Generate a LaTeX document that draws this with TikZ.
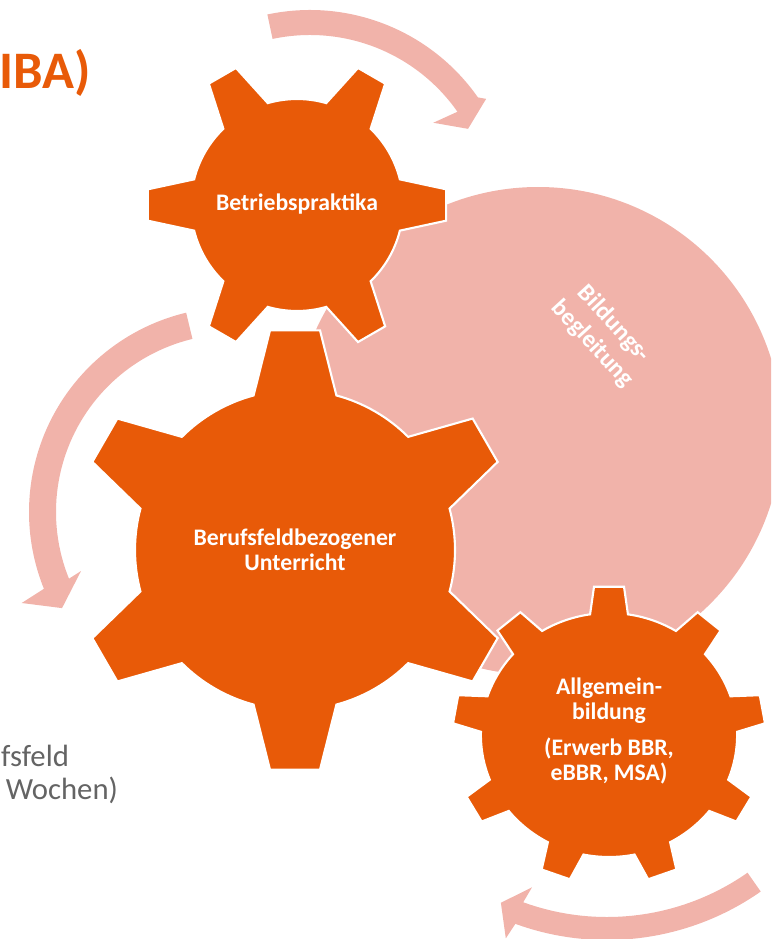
\documentclass[tikz,border=0pt]{standalone}
\usepackage{fontspec}
\setmainfont{Carlito}
\usepackage{tikz}
\usetikzlibrary{positioning,calc}
\usepackage{xcolor}

\definecolor{gearorange}{RGB}{232,90,8}
\definecolor{ringpink}{RGB}{241,179,170}
\definecolor{slidegray}{RGB}{100,100,100}

\tikzset{
  gear/.style={fill=gearorange, draw=white, line width=1.2pt},
  ring/.style={fill=ringpink},
  turnarrow/.style={fill=ringpink},
  gearlabel/.style={text=white, inner sep=0pt, outer sep=0pt, align=center,
    font=\bfseries\fontsize{13.5}{14.2}\selectfont},
  slidetext/.style={anchor=base east, inner sep=0pt, outer sep=0pt}
}

\begin{document}
\begin{tikzpicture}[x=0.02cm, y=-0.02cm]
            \useasboundingbox (0,0) rectangle (771,939);
            \clip (0,0) rectangle (771,939);
            % Big disc behind the gears
            \fill[ring] (538,431) circle[radius=244];
            % Arrow 1: over the top gear
            \begin{scope}[shift={(310,215)}]
            \fill[turnarrow] (-102:205) arc[start angle=-102, end angle=-35, radius=205]
                -- (-33.4:211) -- (-28.6:180) -- (-36.8:154)
                -- (-35:180) arc[start angle=-35, end angle=-102, radius=180] -- cycle;
            \end{scope}
            % Arrow 2: left of the big gear
            \begin{scope}[shift={(234,512)}]
            \fill[turnarrow] (-103.5:205) arc[start angle=-103.5, end angle=-202, radius=205]
                -- (-203.2:231) -- (-209.2:197) -- (-201.1:164)
                -- (-202:178) arc[start angle=-202, end angle=-103.5, radius=178] -- cycle;
            \end{scope}
            % Arrow 3: under the small gear
            \begin{scope}[shift={(607,672)}]
            \fill[turnarrow] (55:268) arc[start angle=55, end angle=110, radius=268]
                -- (110.8:285) -- (114.7:254) -- (109.2:228)
                -- (110:245) arc[start angle=110, end angle=55, radius=245] -- cycle;
            \end{scope}
            % Gear 1: 6 teeth
            \begin{scope}[shift={(297,205)}]
            \filldraw[gear] (-14:106)
                -- (-6:150) -- (6:150) -- (14:106) arc[start angle=14, end angle=46, radius=106]
                -- (54:150) -- (66:150) -- (74:106) arc[start angle=74, end angle=106, radius=106]
                -- (114:150) -- (126:150) -- (134:106) arc[start angle=134, end angle=166, radius=106]
                -- (174:150) -- (186:150) -- (194:106) arc[start angle=194, end angle=226, radius=106]
                -- (234:150) -- (246:150) -- (254:106) arc[start angle=254, end angle=286, radius=106]
                -- (294:150) -- (306:150) -- (314:106) arc[start angle=314, end angle=346, radius=106]
                -- cycle;
            \end{scope}
            % Gear 2: 6 teeth, big
            \begin{scope}[shift={(295,550)}]
            \filldraw[gear] (15:160)
                -- (23.5:221) -- (36.5:221) -- (45:160) arc[start angle=45, end angle=75, radius=160]
                -- (83.5:221) -- (96.5:221) -- (105:160) arc[start angle=105, end angle=135, radius=160]
                -- (143.5:221) -- (156.5:221) -- (165:160) arc[start angle=165, end angle=195, radius=160]
                -- (203.5:221) -- (216.5:221) -- (225:160) arc[start angle=225, end angle=255, radius=160]
                -- (263.5:221) -- (276.5:221) -- (285:160) arc[start angle=285, end angle=315, radius=160]
                -- (323.5:221) -- (336.5:221) -- (345:160) arc[start angle=345, end angle=375, radius=160]
                -- cycle;
            \end{scope}
            % Gear 3: 9 teeth, a bit wider than high
            \begin{scope}[shift={(609,735)}, xscale=1.05]
            \filldraw[gear] (-98.5:122)
                -- (-95.5:149) -- (-84.5:149) -- (-81.5:122) arc[start angle=-81.5, end angle=-58.5, radius=122]
                -- (-55.5:149) -- (-44.5:149) -- (-41.5:122) arc[start angle=-41.5, end angle=-18.5, radius=122]
                -- (-15.5:149) -- (-4.5:149) -- (-1.5:122) arc[start angle=-1.5, end angle=21.5, radius=122]
                -- (24.5:149) -- (35.5:149) -- (38.5:122) arc[start angle=38.5, end angle=61.5, radius=122]
                -- (64.5:149) -- (75.5:149) -- (78.5:122) arc[start angle=78.5, end angle=101.5, radius=122]
                -- (104.5:149) -- (115.5:149) -- (118.5:122) arc[start angle=118.5, end angle=141.5, radius=122]
                -- (144.5:149) -- (155.5:149) -- (158.5:122) arc[start angle=158.5, end angle=181.5, radius=122]
                -- (184.5:149) -- (195.5:149) -- (198.5:122) arc[start angle=198.5, end angle=221.5, radius=122]
                -- (224.5:149) -- (235.5:149) -- (238.5:122) arc[start angle=238.5, end angle=261.5, radius=122]
                -- cycle;
            \end{scope}
            % Labels
            \node[gearlabel] (praktika) at (297,204) {Betriebspraktika};
            \node[gearlabel] (unterricht) at (295,550) {Berufsfeldbezogener\\Unterricht};
            \node[gearlabel, font=\bfseries\fontsize{14}{16.5}\selectfont, rotate=-47.5] (begleitung) at (603,334) {Bildungs-\\begleitung};
            \node[gearlabel] (allgemein) at (609,731) {Allgemein-\\bildung\\[6.8pt](Erwerb BBR,\\eBBR, MSA)};
            % Slide text cut at the left edge
            \node[slidetext, text=gearorange, font=\bfseries\fontsize{30}{36}\selectfont] (titel) at (91,89) {IBA)};
            \node[slidetext, text=slidegray, font=\fontsize{17.5}{21}\selectfont] (feld) at (69,766) {fsfeld};
            \node[slidetext, text=slidegray, font=\fontsize{17.5}{21}\selectfont] (wochen) at (118,799) {Wochen)};
\end{tikzpicture}
\end{document}
